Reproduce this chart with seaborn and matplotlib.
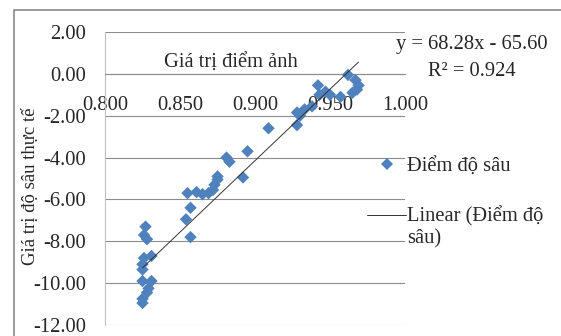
import numpy as np
import pandas as pd
import matplotlib
matplotlib.use('Agg')
import matplotlib.pyplot as plt
import seaborn as sns
from matplotlib.patches import Rectangle
from matplotlib.lines import Line2D
from matplotlib.legend_handler import HandlerLine2D

# Data
pixel_value = [0.827, 0.826, 0.828, 0.831, 0.826, 0.825, 0.825, 0.825, 0.831,
               0.829, 0.828, 0.825, 0.825,
               0.854, 0.857, 0.857, 0.855, 0.861, 0.865, 0.869, 0.872, 0.873,
               0.875, 0.875, 0.881, 0.883, 0.895, 0.892, 0.909,
               0.928, 0.928, 0.930, 0.933, 0.938, 0.942, 0.947, 0.950, 0.943,
               0.957, 0.965, 0.968, 0.969, 0.967, 0.962]
depth_value = [-7.3, -7.7, -7.9, -8.7, -8.8, -9.1, -9.35, -9.9, -9.9,
               -10.25, -10.45, -10.75, -10.95,
               -6.95, -7.8, -6.4, -5.7, -5.65, -5.75, -5.7, -5.55, -5.3,
               -5.05, -4.9, -4.0, -4.2, -3.7, -4.95, -2.6,
               -2.45, -1.85, -2.0, -1.7, -1.55, -0.55, -0.85, -1.0, -1.0,
               -1.1, -0.9, -0.75, -0.55, -0.3, -0.05]
slope, intercept, r2 = 68.28, -65.60, 0.924

x_ticks = [0.800, 0.850, 0.900, 0.950, 1.000]
y_ticks = [2, 0, -2, -4, -6, -8, -10, -12]

df = pd.DataFrame({'pixel': pixel_value, 'depth': depth_value})

sns.set_style('white')
plt.rcParams['font.family'] = ['Liberation Serif', 'DejaVu Serif']
fs = 14.8


# legend line sits beside the first line of a two-line label (Excel style)
class FirstLineHandler(HandlerLine2D):
    def create_artists(self, legend, orig_handle, xdescent, ydescent,
                       width, height, fontsize, trans):
        return super().create_artists(legend, orig_handle, xdescent,
                                      ydescent - 1.2 * fontsize, width,
                                      height, fontsize, trans)


W, H = 561, 336
fig = plt.figure(figsize=(W / 100, H / 100), dpi=100)
fig.patch.set_facecolor('white')

# chart area border (only top/left visible in crop)
fig.patches.append(Rectangle((14 / W, -0.2), 1.2, 1 - 10 / H + 0.2,
                             transform=fig.transFigure, fill=False,
                             edgecolor='#8a8a8a', linewidth=1.2))

ax = fig.add_axes([105 / W, 1 - 325 / H, 300 / W, 293 / H])

sns.scatterplot(data=df, x='pixel', y='depth', marker='D', s=40,
                color='#4F81BD', edgecolor='none', linewidth=0, ax=ax,
                zorder=3)

xl = np.array([df['pixel'].min(), df['pixel'].max()])
sns.lineplot(x=xl, y=slope * xl + intercept, color='#333333', linewidth=0.7,
             ax=ax, zorder=4)

ax.set_xlim(0.8, 1.0)
ax.set_ylim(-12, 2)
ax.set_xticks(x_ticks)
ax.set_xticklabels([f'{v:.3f}' for v in x_ticks])
ax.set_yticks(y_ticks)
ax.set_yticklabels([f'{v:.2f}' for v in y_ticks])

ax.grid(axis='y', color='#8c8c8c', linewidth=0.8)
ax.set_axisbelow(True)
for s in ['top', 'right']:
    ax.spines[s].set_visible(False)
ax.spines['bottom'].set_position(('data', 0))
ax.spines['bottom'].set_color('#8c8c8c')
ax.spines['bottom'].set_linewidth(0.8)
ax.spines['left'].set_color('#c0c0c0')
ax.spines['left'].set_linewidth(0.8)

ax.tick_params(axis='x', direction='out', length=4.3, width=0.8,
               color='#8c8c8c', pad=11.5, labelsize=fs)
ax.tick_params(axis='y', direction='out', length=5, width=0.8,
               color='#8c8c8c', pad=8.5, labelsize=fs)

ax.set_xlabel('Giá trị điểm ảnh', fontsize=fs)
ax.xaxis.label.set_va('center')
ax.xaxis.set_label_coords((231 - 105) / 300, (325 - 63) / 293)
ax.set_ylabel('Giá trị độ sâu thực tế', fontsize=13.5)
ax.yaxis.label.set_va('center')
ax.yaxis.set_label_coords((30 - 105) / 300, (325 - 186) / 293)

fig.text(472 / W, 1 - 45 / H, f'y = {slope:.2f}x - {abs(intercept):.2f}',
         ha='center', va='center', fontsize=fs)
fig.text(472 / W, 1 - 72 / H, f'R² = {r2:.3f}',
         ha='center', va='center', fontsize=fs)

trend_handle = Line2D([], [], color='#333333', linewidth=0.7)
handles = [Line2D([], [], marker='D', linestyle='none', color='#4F81BD',
                  markersize=6.5, markeredgewidth=0),
           trend_handle]
labels = ['Điểm độ sâu', 'Linear (Điểm độ\nsâu)']
fig.legend(handles, labels, loc='upper left',
           bbox_to_anchor=(367 / W, 1 - 157 / H), frameon=False,
           fontsize=fs, handlelength=1.9, handletextpad=0.05,
           borderpad=0, borderaxespad=0, labelspacing=1.45,
           handler_map={trend_handle: FirstLineHandler()})

fig.savefig('out.png', dpi=100)
